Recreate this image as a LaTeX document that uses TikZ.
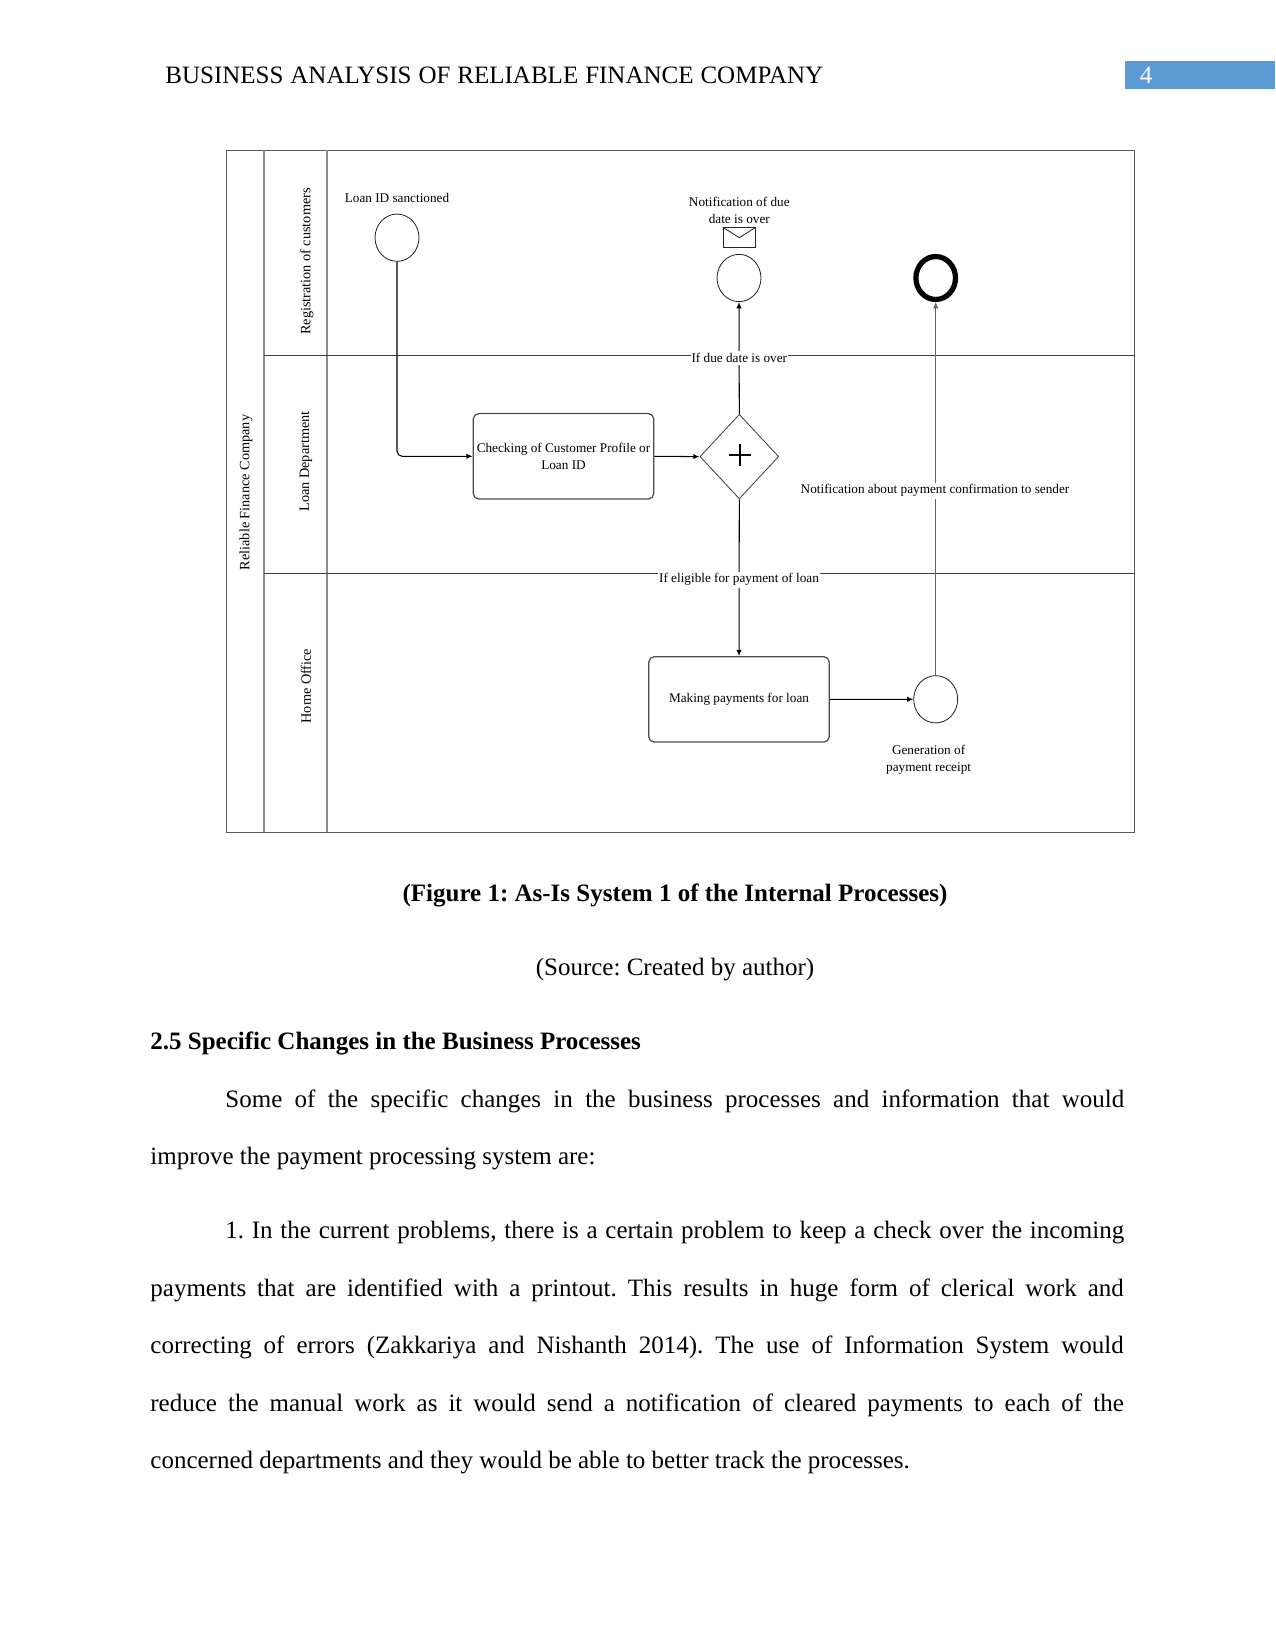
\documentclass[tikz,border=0pt]{standalone}
\usepackage{fontspec}
\setmainfont{Liberation Serif}
\usetikzlibrary{arrows.meta,shapes.geometric,calc}
\frenchspacing
\definecolor{hdrblue}{HTML}{5B9BD5}
\newcommand{\figfont}{\fontsize{6.35}{8.2}\selectfont}
\newcommand{\lanefont}{\fontsize{6.85}{8.2}\selectfont}
\tikzset{
  x=0.48pt,y=-0.48pt,
  flow/.style={draw=black,line width=0.5pt,-{Latex[length=3pt,width=2.6pt]}},
  lanesep/.style={draw=black!45,line width=0.8pt},
  lanerow/.style={draw=black!75,line width=0.5pt},
  event/.style={ellipse,draw=black!85,line width=0.4pt,fill=white,inner sep=0pt,minimum width=21.1pt,minimum height=22.7pt},
  endevent/.style={ellipse,draw=black,line width=2.5pt,fill=white,inner sep=0pt,minimum width=19pt,minimum height=20.6pt},
  task/.style={rectangle,rounded corners=2.6pt,draw=black!70,line width=0.6pt,fill=white,inner sep=0pt,align=center,font=\figfont},
  gateway/.style={diamond,draw=black!75,line width=0.4pt,fill=white,inner sep=0pt,minimum width=37.8pt,minimum height=40.6pt},
  lbl/.style={inner sep=0pt,align=center,font=\figfont},
  wlbl/.style={lbl,fill=white,inner xsep=0.5pt,inner ysep=1pt},
  lanelbl/.style={inner sep=0pt,font=\lanefont,rotate=90},
  body/.style={inner sep=0pt,anchor=base west,font=\fontsize{12}{14}\selectfont},
  centred/.style={inner sep=0pt,anchor=base,font=\fontsize{12}{14}\selectfont},
}
\begin{document}
\begin{tikzpicture}
\useasboundingbox (0,0) rectangle (1275,1651);
\fill[white] (0,0) rectangle (1275,1651);
% header
\node[body] (head) at (165,84) {\makebox[315.8pt][s]{BUSINESS ANALYSIS OF RELIABLE FINANCE COMPANY}};
\node[rectangle,fill=hdrblue,inner sep=0pt,minimum width=72pt,minimum height=13.6pt,anchor=north west] (tab) at (1125,60.3) {};
\node[body,text=white,anchor=base] (pageno) at (1146,84) {4};
% pool frame and lanes
\node[draw=black!65,line width=0.5pt,rectangle,inner sep=0pt,anchor=north west,minimum width=435.6pt,minimum height=327.4pt] (pool) at (226,150) {};
\coordinate (s1t) at (264,150); \coordinate (s1b) at (264,832);
\coordinate (s2t) at (327,150); \coordinate (s2b) at (327,832);
\coordinate (r1l) at (264,355.4); \coordinate (r1r) at (1134,355.4);
\coordinate (r2l) at (264,573.4); \coordinate (r2r) at (1134,573.4);
\draw[lanesep] (s1t) -- (s1b);
\draw[lanesep] (s2t) -- (s2b);
\draw[lanerow] (r1l) -- (r1r);
\draw[lanerow] (r2l) -- (r2r);
\node[lanelbl] (l0) at (246,492.5) {Reliable Finance Company};
\node[lanelbl] (l1) at (307,261.5) {Registration of customers};
\node[lanelbl] (l2) at (306,461.5) {Loan Department};
\node[lanelbl] (l3) at (306,686) {Home Office};
% flow nodes
\node[event] (start) at (397,237.7) {};
\node[event] (notif) at (739,278) {};
\node[endevent] (finish) at (935.7,278) {};
\node[event] (receipt) at (935.7,699.3) {};
\node[task,minimum width=86.6pt,minimum height=41pt] (check) at (563.5,456.3) {Checking of Customer Profile or\\Loan ID};
\node[gateway] (gate) at (739.3,456.6) {};
\node[task,minimum width=86.6pt,minimum height=41pt] (pay) at (739,699.4) {\raisebox{-0.7pt}{Making payments for loan}};
% gateway plus
\draw[line width=0.7pt] ($(gate.center)+(0.5,-13)$) -- ($(gate.center)+(0.5,9.5)$);
\draw[line width=0.7pt] ($(gate.center)+(-10.5,-1.5)$) -- ($(gate.center)+(11.5,-1.5)$);
% envelope
\node[rectangle,draw=black!85,line width=0.5pt,inner sep=0pt,minimum width=15.4pt,minimum height=9.4pt] (env) at (739.3,237.5) {};
\draw[draw=black!85,line width=0.4pt] (env.north west) -- ($(env.north)+(0,10.5)$) -- (env.north east);
% connectors
\draw[flow,rounded corners=2.5pt] (start.south) |- (check.west);
\draw[flow] (check.east) -- (gate.west);
\draw[flow] (gate.north) -- (notif.south);
\draw[flow] (gate.south) -- (pay.north);
\draw[flow] (pay.east) -- (receipt.west);
\draw[flow,draw=black!60,line width=0.4pt] (receipt.north) -- (finish.south);
% labels
\node[lbl] (t1) at (397,197.5) {Loan ID sanctioned};
\node[lbl] (t2) at (739.3,210.5) {Notification of due\\date is over};
\node[wlbl] (t3) at (739.3,358) {If due date is over};
\node[wlbl] (t4) at (935,490.7) {Notification about payment confirmation to sender};
\node[wlbl] (t5) at (739,579.7) {If eligible for payment of loan};
\node[lbl] (t6) at (928.6,759.5) {Generation of\\payment receipt};
% text
\node[centred,font=\fontsize{12}{14}\selectfont\bfseries] (cap) at (675,901) {(Figure 1: As-Is System 1 of the Internal Processes)};
\node[centred] (src) at (675,975) {(Source: Created by author)};
\node[body,font=\fontsize{12}{14}\selectfont\bfseries] (sec) at (150,1049.5) {2.5 Specific Changes in the Business Processes};
\node[body] (p1) at (225,1107) {\makebox[431.4pt][s]{Some of the specific changes in the business processes and information that would}};
\node[body] (p2) at (150,1164) {improve the payment processing system are:};
\node[body] (q1) at (225,1238) {\makebox[431.4pt][s]{1. In the current problems, there is a certain problem to keep a check over the incoming}};
\node[body] (q2) at (150,1296) {\makebox[467.2pt][s]{payments that are identified with a printout. This results in huge form of clerical work and}};
\node[body] (q3) at (150,1353) {\makebox[467.2pt][s]{correcting of errors (Zakkariya and Nishanth 2014). The use of Information System would}};
\node[body] (q4) at (150,1411) {\makebox[467.2pt][s]{reduce the manual work as it would send a notification of cleared payments to each of the}};
\node[body] (q5) at (150,1468) {concerned departments and they would be able to better track the processes.};
\end{tikzpicture}
\end{document}
